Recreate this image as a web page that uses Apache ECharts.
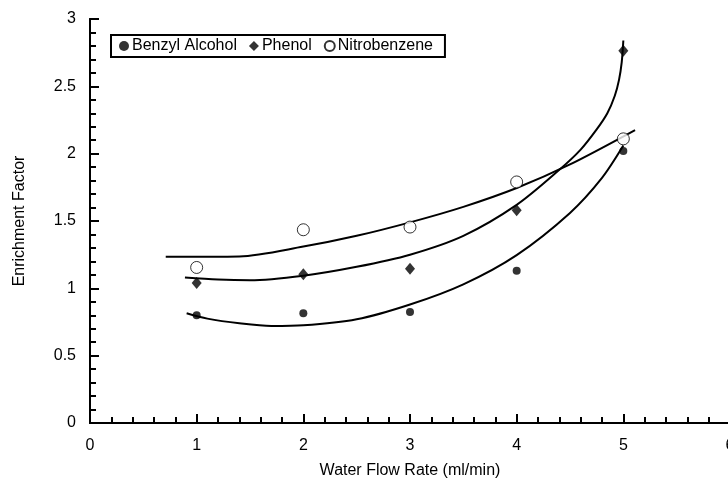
<!DOCTYPE html>
<html>
<head>
<meta charset="utf-8">
<script src="https://cdn.jsdelivr.net/npm/echarts@6/dist/echarts.min.js"></script>
<style>
  html, body { margin: 0; padding: 0; background: #fff; }
  #chart { width: 728px; height: 479px; }
</style>
</head>
<body>
<div id="chart"></div>
<script>
// measured points
const flowRate = [1, 2, 3, 4, 5]
const benzylAlcohol = [0.80, 0.815, 0.825, 1.13, 2.02]
const phenol = [1.04, 1.105, 1.145, 1.58, 2.765]
const nitrobenzene = [1.155, 1.435, 1.455, 1.79, 2.11]

// fitted curves as [x, y]
const benzylFit = [[0.906, 0.815], [1.1, 0.775], [1.4, 0.74], [1.7, 0.72], [2.0, 0.725], [2.5, 0.77], [3.0, 0.88], [3.5, 1.03], [4.0, 1.247], [4.5, 1.56], [4.8, 1.82], [5.0, 2.06]]
const phenolFit = [[0.89, 1.08], [1.2, 1.065], [1.5, 1.06], [2.0, 1.094], [2.5, 1.16], [3.0, 1.25], [3.5, 1.39], [4.0, 1.62], [4.4, 1.88], [4.6, 2.03], [4.75, 2.18], [4.85, 2.3], [4.92, 2.43], [4.96, 2.55], [4.985, 2.68], [5.0, 2.84]]
const nitroFit = [[0.71, 1.235], [1.0, 1.235], [1.4, 1.237], [2.0, 1.31], [2.5, 1.39], [3.0, 1.49], [3.5, 1.605], [4.0, 1.745], [4.5, 1.92], [5.11, 2.175]]

const pairs = (ys) => flowRate.map((x, i) => [x, ys[i]])
const font = 'Liberation Sans, Arial, sans-serif'

const chart = echarts.init(document.getElementById('chart'))

const fitLine = (name, data) => ({
  name: name,
  type: 'line',
  data: data,
  smooth: 0.3,
  symbol: 'none',
  lineStyle: { color: '#000', width: 2 },
  z: 2
})

chart.setOption({
  animation: false,
  grid: { left: 90, right: -2, top: 19, bottom: 56, outerBoundsMode: 'none' },
  legend: {
    data: ['Benzyl Alcohol', 'Phenol', 'Nitrobenzene'],
    left: 111,
    top: 35,
    orient: 'horizontal',
    borderColor: '#000',
    borderWidth: 2,
    borderRadius: 0,
    padding: [3, 12, 3, 8],
    itemGap: 12,
    itemWidth: 10,
    itemHeight: 10,
    textStyle: { fontFamily: font, fontSize: 16, color: '#000', padding: [0, 0, 0, -2] }
  },
  xAxis: [{
    type: 'value',
    min: 0,
    max: 6,
    interval: 1,
    name: 'Water Flow Rate (ml/min)',
    nameLocation: 'middle',
    nameGap: 40,
    nameTextStyle: { fontFamily: font, fontSize: 16, color: '#000' },
    axisLine: { show: true, onZero: false, lineStyle: { color: '#000', width: 2 } },
    axisTick: { show: true, inside: true, length: 9, lineStyle: { color: '#000', width: 2 } },
    minorTick: { show: true, splitNumber: 5, length: 6, lineStyle: { color: '#000', width: 2 } },
    axisLabel: { fontFamily: font, fontSize: 16, color: '#000', margin: 15 },
    splitLine: { show: false }
  }, {
    type: 'value',
    position: 'top',
    min: 0,
    max: 6,
    axisLine: { show: true, lineStyle: { color: '#000', width: 2 } },
    axisTick: { show: false },
    axisLabel: { show: false },
    splitLine: { show: false }
  }],
  yAxis: [{
    type: 'value',
    min: 0,
    max: 3,
    interval: 0.5,
    name: 'Enrichment Factor',
    nameLocation: 'middle',
    nameGap: 62,
    nameRotate: 90,
    nameTextStyle: { fontFamily: font, fontSize: 16, color: '#000' },
    axisLine: { show: true, onZero: false, lineStyle: { color: '#000', width: 2 } },
    axisTick: { show: true, inside: true, length: 9, lineStyle: { color: '#000', width: 2 } },
    minorTick: { show: true, splitNumber: 5, length: 6, lineStyle: { color: '#000', width: 2 } },
    axisLabel: { fontFamily: font, fontSize: 16, color: '#000', margin: 14 },
    splitLine: { show: false }
  }, {
    type: 'value',
    position: 'right',
    min: 0,
    max: 3,
    axisLine: { show: true, lineStyle: { color: '#000', width: 2 } },
    axisTick: { show: false },
    axisLabel: { show: false },
    splitLine: { show: false }
  }],
  series: [
    fitLine('benzylFit', benzylFit),
    fitLine('phenolFit', phenolFit),
    fitLine('nitroFit', nitroFit),
    {
      name: 'Benzyl Alcohol',
      type: 'scatter',
      data: pairs(benzylAlcohol),
      symbol: 'circle',
      symbolSize: 8,
      itemStyle: { color: '#000' },
      z: 3
    },
    {
      name: 'Phenol',
      type: 'scatter',
      data: pairs(phenol),
      symbol: 'diamond',
      symbolSize: [10, 12],
      itemStyle: { color: '#000' },
      z: 3
    },
    {
      name: 'Nitrobenzene',
      type: 'scatter',
      data: pairs(nitrobenzene),
      symbol: 'circle',
      symbolSize: 12,
      itemStyle: { color: '#fff', borderColor: '#000', borderWidth: 1 },
      z: 3
    }
  ]
})
</script>
</body>
</html>
